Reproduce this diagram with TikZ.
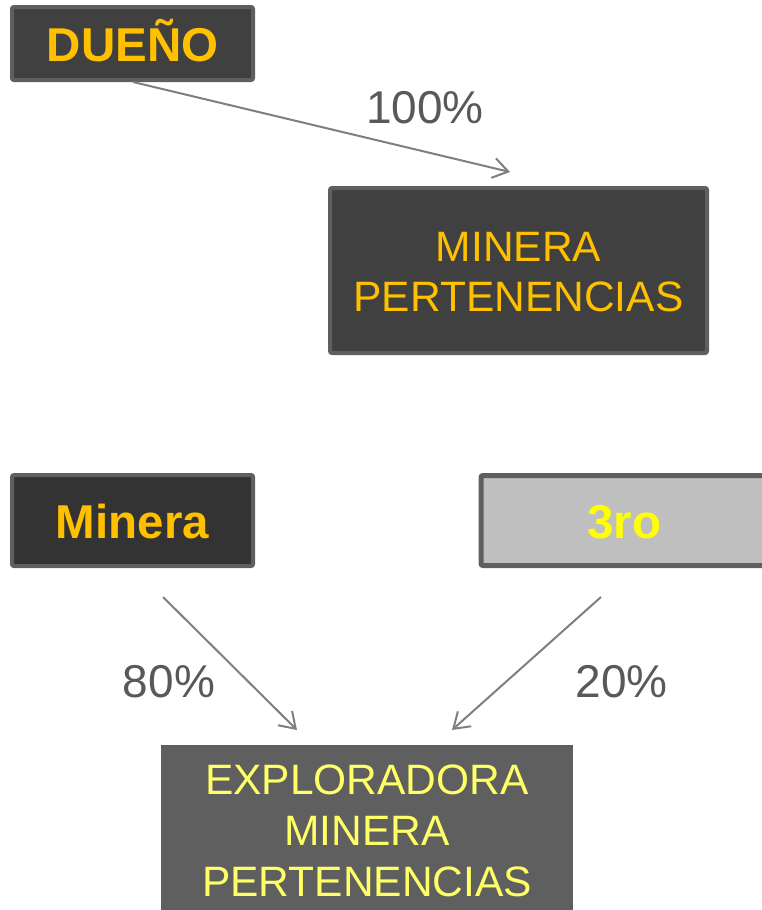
\documentclass[tikz,border=0pt]{standalone}
\usepackage{fontspec}
\setmainfont{Liberation Sans}
\usetikzlibrary{arrows.meta,calc}
\definecolor{darkbox}{HTML}{404040}
\definecolor{darkerbox}{HTML}{333333}
\definecolor{boxborder}{HTML}{5F5F5F}
\definecolor{lightbox}{HTML}{BFBFBF}
\definecolor{midbox}{HTML}{5F5F5F}
\definecolor{orangetxt}{HTML}{FFC000}
\definecolor{yellowtxt}{HTML}{FFFF00}
\definecolor{paleyellow}{HTML}{FFFF66}
\definecolor{arrowgray}{HTML}{7F7F7F}
\definecolor{labelgray}{HTML}{595959}
\begin{document}
\begin{tikzpicture}[x=1pt,y=-1pt,
  box/.style={rectangle, draw=boxborder, line width=4pt, rounded corners=2pt, inner sep=0pt, align=center},
  boldtxt/.style={font=\fontsize{47.5}{50}\selectfont\bfseries, text height=36pt, text depth=0pt},
  regtxt/.style={font=\fontsize{42.5}{50}\selectfont},
  pct/.style={anchor=base, text=labelgray, font=\fontsize{46}{50}\selectfont, inner sep=0pt},
  arr/.style={draw=arrowgray, line width=2pt, -{Straight Barb[length=15pt,width=20pt]}}
]
\useasboundingbox (0,0) rectangle (761,910);

% boxes
\node[box, regtxt, fill=darkbox, text=orangetxt, minimum width=377pt, minimum height=165pt] (mp) at (518.5,270.5) {};
\node[regtxt, text=orangetxt, align=center, inner sep=0pt] (mptxt) at (518.5,272) {MINERA\\PERTENENCIAS};
\node[box, boldtxt, fill=darkbox, text=orangetxt, minimum width=241pt, minimum height=73pt] (dueno) at (132.5,43.5) {DUEÑO};
\node[box, boldtxt, fill=darkerbox, text=orangetxt, minimum width=241pt, minimum height=91pt] (minera) at (132.5,520.5) {Minera};
\node[box, boldtxt, line width=5pt, fill=lightbox, text=yellowtxt, minimum width=287pt, minimum height=90pt] (tercero) at (624.5,520.5) {3ro};
\node[rectangle, inner sep=0pt, align=center, fill=midbox, text=paleyellow, font=\fontsize{42.5}{51}\selectfont, minimum width=412pt, minimum height=172pt] (expl) at (367,831) {EXPLORADORA\\MINERA\\PERTENENCIAS};

% arrow end points
\coordinate (s1) at (133,82);
\coordinate (e1) at (510,172);
\coordinate (s2) at (163,597);
\coordinate (e2) at (297,730);
\coordinate (s3) at (601,597);
\coordinate (e3) at (452,730);

\draw[arr] (s1) -- (e1);
\draw[arr] (s2) -- (e2);
\draw[arr] (s3) -- (e3);

% labels
\node[pct] (l100) at (425,123) {100\%};
\node[pct] (l80) at (169,697) {80\%};
\node[pct] (l20) at (621.5,697) {20\%};
\end{tikzpicture}
\end{document}
